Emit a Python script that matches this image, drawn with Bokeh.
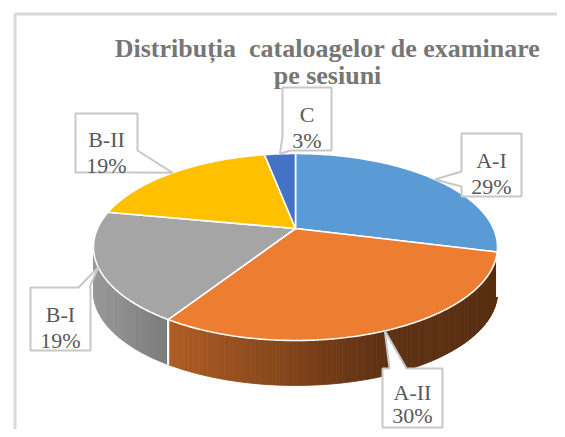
import numpy as np
from bokeh.plotting import figure
from bokeh.models import Range1d, ColumnDataSource
from bokeh.embed import file_html
from bokeh.resources import INLINE
from bokeh.core.properties import value

# ---------------- data ----------------
categories = ["A-I", "A-II", "B-I", "B-II", "C"]
percent = [29, 30, 19, 19, 3]
colors = ["#5B9BD5", "#ED7D31", "#A5A5A5", "#FFC000", "#4472C4"]
title_lines = ["Distribuția\u00a0 cataloagelor de examinare", "pe sesiuni"]

# ---------------- geometry (perspective disk, screen pixel coords) ----------------
CX, CY = 295.0, 228.0
SR, TR, C = 198.0, 89.8, 0.198
DEPTH = 45.0


def rim(theta_deg, drop=0.0):
    t = np.radians(np.asarray(theta_deg, dtype=float))
    w = 1 + C * np.cos(t)
    return CX + SR * np.sin(t) / w, CY - TR * np.cos(t) / w + drop


total = float(sum(percent))
bounds = np.concatenate([[0.0], np.cumsum(percent) / total * 360.0])

TH_R = np.degrees(np.arccos(-C))   # right silhouette
TH_L = 360.0 - TH_R                # left silhouette

shade_x = [93, 165, 380, 500]
shade_f = [0.93, 0.75, 0.40, 0.37]


def shade(hexcol, f):
    r, g, b = int(hexcol[1:3], 16), int(hexcol[3:5], 16), int(hexcol[5:7], 16)
    return "#%02x%02x%02x" % (int(r * f), int(g * f), int(b * f))


W, H = 557, 429
p = figure(width=W, height=H, output_backend="svg", toolbar_location=None,
           x_range=Range1d(0, W), y_range=Range1d(H, 0),
           x_axis_type=None, y_axis_type=None, min_border=0,
           outline_line_color=None, background_fill_color="white")

# chart frame (light gray border, partly outside the window)
p.line([14.5, 14.5, 600], [600, 13.5, 13.5], line_color="#d9d9d9", line_width=3)

# ---------------- sides ----------------
side_xs, side_ys, side_cols = [], [], []
seam_x, seam_y = [], []
for i, col in enumerate(colors):
    a, b = bounds[i], bounds[i + 1]
    lo, hi = max(a, TH_R), min(b, TH_L)
    if hi <= lo:
        continue
    n = max(2, int((hi - lo) / 0.7))
    th = np.linspace(lo, hi, n + 1)
    for k in range(n):
        t2 = np.array([th[k], th[k + 1]])
        xt, yt = rim(t2)
        xb, yb = rim(t2, DEPTH)
        side_xs.append([xt[0], xt[1], xb[1], xb[0]])
        side_ys.append([yt[0], yt[1], yb[1], yb[0]])
        f = float(np.interp(xt.mean(), shade_x, shade_f))
        side_cols.append(shade(col, f))
    for edge in (a, b):
        if TH_R < edge < TH_L:
            xt, yt = rim([edge])
            xb, yb = rim([edge], DEPTH)
            seam_x.append([xt[0], xb[0]])
            seam_y.append([yt[0], yb[0]])

p.patches(side_xs, side_ys, fill_color=side_cols, line_color=side_cols, line_width=0.8)
p.multi_line(seam_x, seam_y, line_color="white", line_width=2)

# ---------------- top faces ----------------
top_xs, top_ys = [], []
for i in range(len(percent)):
    th = np.linspace(bounds[i], bounds[i + 1], max(3, int(bounds[i + 1] - bounds[i]) * 2))
    xr, yr = rim(th)
    top_xs.append([CX] + list(xr))
    top_ys.append([CY] + list(yr))
p.patches(top_xs, top_ys, fill_color=colors, line_color="white", line_width=1.6)

# ---------------- callouts ----------------
boxes = {
    "A-I": ((461, 133, 521, 196), "left", 171, 186, 27, 53),
    "A-II": ((382, 368, 442, 427), "top", 389, 406, 24, 47),
    "B-I": ((30, 287, 90, 350), "top", 78, 89, 27, 53),
    "B-II": ((75, 113, 137, 172), "br", 150, 137, 26, 52),
    "C": ((282, 87, 331, 150), "bl", 290, 136, 27, 53),
}


def callout(box, kind, a, b, tip):
    x0, y0, x1, y1 = box
    if kind == "left":
        pts = [(x0, y0), (x1, y0), (x1, y1), (x0, y1), (x0, b), tip, (x0, a)]
    elif kind == "top":
        pts = [(x0, y0), (a, y0), tip, (b, y0), (x1, y0), (x1, y1), (x0, y1)]
    elif kind == "br":
        pts = [(x0, y0), (x1, y0), (x1, a), tip, (b, y1), (x0, y1)]
    else:  # "bl"
        pts = [(x0, y0), (x1, y0), (x1, y1), (a, y1), tip, (x0, b)]
    return [q[0] for q in pts], [q[1] for q in pts]


cxs, cys = [], []
tx, ty, tt = [], [], []
for i, cat in enumerate(categories):
    box, kind, a, b, l1, l2 = boxes[cat]
    mid = (bounds[i] + bounds[i + 1]) / 2
    mx, my = rim([mid])
    xs, ys = callout(box, kind, a, b, (mx[0], my[0]))
    cxs.append(xs)
    cys.append(ys)
    x0, y0, x1, y1 = box
    xc = (x0 + x1) / 2
    tx += [xc, xc]
    ty += [y0 + l1, y0 + l2]
    tt += [cat, f"{percent[i]}%"]

p.patches(cxs, cys, fill_color="white", line_color="#c8c8c8", line_width=2)
p.text(x="x", y="y", text="t", source=ColumnDataSource(dict(x=tx, y=ty, t=tt)),
       text_font=value("Liberation Serif"), text_font_size="22px",
       text_color="#595959", text_align="center", text_baseline="alphabetic")

# ---------------- title ----------------
p.text(x=[327, 327], y=[48, 75], text=title_lines,
       text_font=value("Liberation Serif"), text_font_size="26px", text_font_style="bold",
       text_color="#767676", text_align="center", text_baseline="alphabetic")

open("out.html", "w").write(file_html(p, INLINE))
